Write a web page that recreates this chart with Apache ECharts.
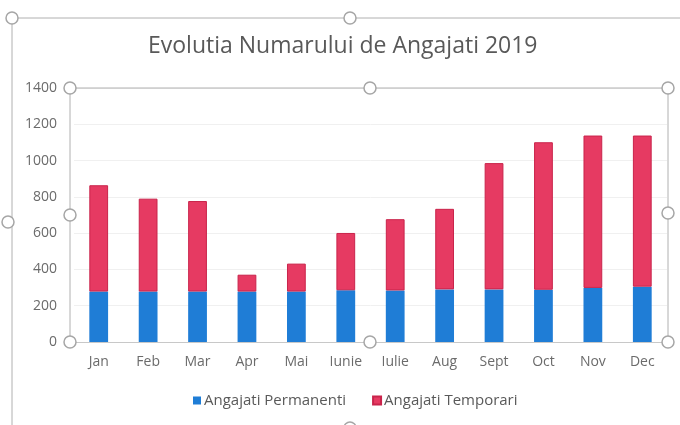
<!DOCTYPE html>
<html>
<head>
<meta charset="utf-8">
<script src="https://cdn.jsdelivr.net/npm/echarts@6/dist/echarts.min.js"></script>
<style>html,body{margin:0;padding:0;background:#fff}#c{width:680px;height:425px}</style>
</head>
<body>
<div id="c"></div>
<script>
const categories = ['Jan','Feb','Mar','Apr','Mai','Iunie','Iulie','Aug','Sept','Oct','Nov','Dec'];
const permanenti = [278, 278, 278, 278, 278, 285, 284, 290, 290, 288, 298, 305];
const temporari = [586, 512, 499, 93, 154, 316, 393, 444, 696, 813, 840, 833];
const yTicks = [0, 200, 400, 600, 800, 1000, 1200, 1400];

const chart = echarts.init(document.getElementById('c'));
const handle = (x, y) => ({type:'circle', shape:{cx:x, cy:y, r:6}, style:{fill:'#fff', stroke:'#a6a6a6', lineWidth:1.5}, z:100});
const line = (x1,y1,x2,y2) => ({type:'line', shape:{x1,y1,x2,y2}, style:{stroke:'#b0b0b0', lineWidth:1}, z:90});
chart.setOption({
  animation:false,
  backgroundColor:'#fff',
  title:{text:'Evolutia Numarului de Angajati 2019', left:143, top:30,
    textStyle:{fontFamily:'Open Sans', fontWeight:'normal', fontSize:23, color:'#595959'}},
  grid:{left:74, right:13, top:88, bottom:83},
  legend:{bottom:12, left:188, itemWidth:8, itemHeight:8, itemGap:26, icon:'rect',
    textStyle:{fontFamily:'Open Sans', fontSize:15, color:'#595959', padding:[0,0,0,-2]}},
  xAxis:{type:'category', data:categories,
    axisLine:{lineStyle:{color:'#c8c8c8'}}, axisTick:{show:false},
    axisLabel:{fontFamily:'Open Sans', fontSize:14, color:'#6b6b6b', margin:13}},
  yAxis:{type:'value', min:0, max:1400, interval:200,
    axisLabel:{fontFamily:'Open Sans', fontSize:14, color:'#6b6b6b', margin:17,
      formatter:v => yTicks.includes(v) ? String(v) : ''},
    splitLine:{lineStyle:{color:'#f0f0f0'}}, axisLine:{show:false}, axisTick:{show:false}},
  series:[
    {name:'Angajati Permanenti', type:'bar', stack:'a', data:permanenti, barWidth:'38%',
      itemStyle:{color:'#1f7dd6'}},
    {name:'Angajati Temporari', type:'bar', stack:'a', data:temporari, barWidth:'38%',
      itemStyle:{color:'#e63a62', borderColor:'#c9244b', borderWidth:1}}
  ],
  graphic:[
    line(12,18,680,18), line(12,18,12,425),
    line(70,88,668,88), line(70,88,70,342), line(668,88,668,342),
    handle(12,18), handle(350,18), handle(8,222), handle(350,428),
    handle(70,88), handle(370,88), handle(668,88),
    handle(70,215), handle(668,213),
    handle(70,342), handle(370,342), handle(668,342)
  ]
});
</script>
</body>
</html>
